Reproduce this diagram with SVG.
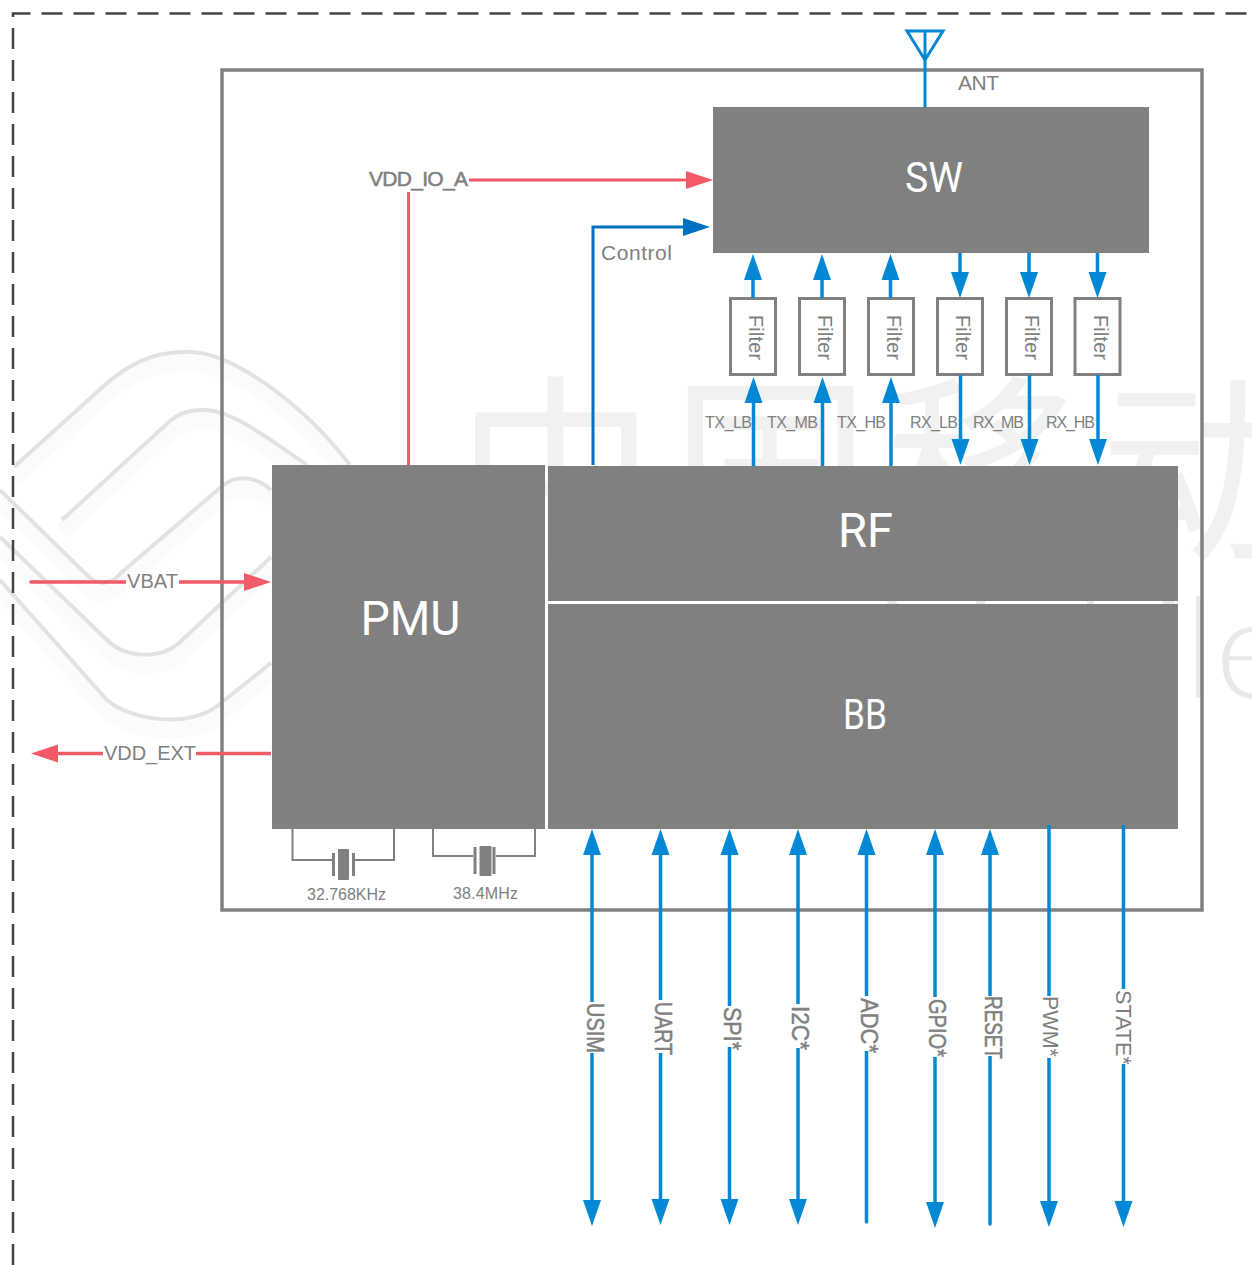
<svg xmlns="http://www.w3.org/2000/svg" width="1252" height="1265" viewBox="0 0 1252 1265">
<style>
.wave{fill:none;stroke:#e2e2e2;stroke-width:4;stroke-linecap:butt}
.band{fill:none;stroke:#fbfbfb;stroke-width:16;stroke-linecap:butt}
.wm{font-family:"Noto Sans CJK SC","Noto Sans",sans-serif;fill:#f1f1f1}
.wl{font-family:Lato,Roboto,sans-serif;font-weight:300;fill:#e9e9e9}
.block{fill:#808080}
.big{font-family:Roboto,"Liberation Sans",sans-serif;fill:#fff;text-anchor:middle}
.lb{font-family:"Liberation Sans",Arial,sans-serif;fill:#808080}
.fb{stroke:#808080;stroke-width:.5}
.blue{fill:none;stroke:#0288d4;stroke-width:3.5}
.dk{fill:none;stroke:#0070c0;stroke-width:3}
.red{fill:none;stroke:#f35a68;stroke-width:3.5}
.thin{fill:none;stroke:#808080;stroke-width:2}
.filter{fill:#fff;stroke:#808080;stroke-width:3}
</style>
<defs>
<marker id="ab" markerUnits="userSpaceOnUse" markerWidth="26" markerHeight="20" refX="0" refY="10" orient="auto-start-reverse"><path d="M0,1 L26,10 L0,19 Z" fill="#0288d4"/></marker>
<marker id="ad" markerUnits="userSpaceOnUse" markerWidth="27" markerHeight="20" refX="0" refY="10" orient="auto-start-reverse"><path d="M0,1 L27,10 L0,19 Z" fill="#0070c0"/></marker>
<marker id="ar" markerUnits="userSpaceOnUse" markerWidth="27" markerHeight="20" refX="0" refY="10" orient="auto-start-reverse"><path d="M0,1 L27,10 L0,19 Z" fill="#f35a68"/></marker>
<path id="w1" d="M14,467 L107,383 C140,355 165,352 189,352 C230,352 300,400 350,465"/>
<path id="w2" d="M62,520 L171,420 C185,410 195,410 207,410 C235,412 270,440 307,465"/>
<path id="w3" d="M0,490 L89,577 C100,586 112,584 121,573 L221,487 C235,475 255,475 271,490"/>
<path id="w4" d="M0,537 L107,640 C125,658 160,660 179,643 L271,557"/>
<path id="w5" d="M0,580 L107,700 C130,720 190,730 221,703 L271,663"/>
</defs>
<rect width="1252" height="1265" fill="#fff"/>
<g id="watermark">
<use href="#w1" class="band" y="11"/><use href="#w2" class="band" y="11"/><use href="#w3" class="band" y="11"/><use href="#w4" class="band" y="11"/><use href="#w5" class="band" y="11"/>
<use href="#w1" class="wave"/><use href="#w2" class="wave"/><use href="#w3" class="wave"/><use href="#w4" class="wave"/><use href="#w5" class="wave"/>
<text class="wm" x="456" y="545" font-size="200" textLength="844">中国移动</text>
<text class="wl" x="1288" y="698" font-size="140" text-anchor="end">Mobile</text>
</g>
<path id="outer-frame" d="M13,1265 V13.500 H1252" fill="none" stroke="#444" stroke-width="2.500" stroke-dasharray="21 11"/>
<rect id="inner-frame" x="222" y="70" width="980" height="840" fill="none" stroke="#808080" stroke-width="3.500"/>
<g id="pmu"><rect class="block" x="272" y="465" width="273" height="364"/><text class="big" x="410.500" y="635" font-size="49" textLength="100" lengthAdjust="spacingAndGlyphs">PMU</text></g>
<g id="rf"><rect class="block" x="548" y="466" width="630" height="135"/><text class="big" x="865.500" y="547" font-size="48" textLength="55" lengthAdjust="spacingAndGlyphs">RF</text></g>
<g id="bb"><rect class="block" x="548" y="604" width="630" height="225"/><text class="big" x="865" y="729" font-size="42" textLength="44" lengthAdjust="spacingAndGlyphs">BB</text></g>
<g id="sw"><rect class="block" x="713" y="107" width="436" height="146"/><text class="big" x="934" y="192" font-size="42" textLength="58" lengthAdjust="spacingAndGlyphs">SW</text></g>
<g id="filter-1"><rect class="filter" x="730.500" y="298.500" width="45" height="76"/><text class="lb" font-size="19.500" transform="translate(749,315) rotate(90)" textLength="45">Filter</text></g>
<g id="filter-2"><rect class="filter" x="799.500" y="298.500" width="45" height="76"/><text class="lb" font-size="19.500" transform="translate(818,315) rotate(90)" textLength="45">Filter</text></g>
<g id="filter-3"><rect class="filter" x="868.500" y="298.500" width="45" height="76"/><text class="lb" font-size="19.500" transform="translate(887,315) rotate(90)" textLength="45">Filter</text></g>
<g id="filter-4"><rect class="filter" x="937.500" y="298.500" width="45" height="76"/><text class="lb" font-size="19.500" transform="translate(956,315) rotate(90)" textLength="45">Filter</text></g>
<g id="filter-5"><rect class="filter" x="1006.500" y="298.500" width="45" height="76"/><text class="lb" font-size="19.500" transform="translate(1025,315) rotate(90)" textLength="45">Filter</text></g>
<g id="filter-6"><rect class="filter" x="1075" y="298.500" width="45" height="76"/><text class="lb" font-size="19.500" transform="translate(1094,315) rotate(90)" textLength="45">Filter</text></g>
<g id="connectors">
<path class="red" style="stroke-width:3" d="M408.500,465 V192"/>
<path class="red" style="stroke-width:3" d="M468,180 H686" marker-end="url(#ar)"/>
<path class="dk" d="M593,465 V227 H683" marker-end="url(#ad)"/>
<path class="red" d="M31,582 H244" marker-end="url(#ar)" stroke-linecap="round"/>
<path class="red" d="M271,753.500 H58" marker-end="url(#ar)"/>
<path d="M925,107 V31" class="blue" style="stroke-width:3"/>
<path d="M907,31 H943 L925,60 Z" class="blue" style="stroke-width:3"/>
<path class="blue" d="M753.500,466 V403" marker-end="url(#ab)"/>
<path class="blue" d="M822.500,466 V403" marker-end="url(#ab)"/>
<path class="blue" d="M891,466 V403" marker-end="url(#ab)"/>
<path class="blue" d="M753,298 V280" marker-end="url(#ab)"/>
<path class="blue" d="M822,298 V280" marker-end="url(#ab)"/>
<path class="blue" d="M890.500,298 V280" marker-end="url(#ab)"/>
<path class="blue" d="M960,253 V272" marker-end="url(#ab)"/>
<path class="blue" d="M1029,253 V272" marker-end="url(#ab)"/>
<path class="blue" d="M1097.500,253 V272" marker-end="url(#ab)"/>
<path class="blue" d="M960.500,375 V439" marker-end="url(#ab)"/>
<path class="blue" d="M1029.500,375 V439" marker-end="url(#ab)"/>
<path class="blue" d="M1098,375 V439" marker-end="url(#ab)"/>
<path class="blue" d="M592,855 V1200" marker-start="url(#ab)" marker-end="url(#ab)"/>
<path class="blue" d="M660.500,855 V1199" marker-start="url(#ab)" marker-end="url(#ab)"/>
<path class="blue" d="M729.500,855 V1199" marker-start="url(#ab)" marker-end="url(#ab)"/>
<path class="blue" d="M798,855 V1199" marker-start="url(#ab)" marker-end="url(#ab)"/>
<path class="blue" d="M866.500,855 V1222" marker-start="url(#ab)" stroke-linecap="round"/>
<path class="blue" d="M935,855 V1202" marker-start="url(#ab)" marker-end="url(#ab)"/>
<path class="blue" d="M990,855 V1224" marker-start="url(#ab)" stroke-linecap="round"/>
<path class="blue" d="M1049,825 V1201" marker-end="url(#ab)"/>
<path class="blue" d="M1123.500,825 V1201" marker-end="url(#ab)"/>
<path class="thin" d="M292.500,829 V860 H332"/><path class="thin" d="M355,860 H394 V829"/>
<path class="thin" d="M433,829 V856 H473"/><path class="thin" d="M496,856 H535 V829"/>
</g>
<g id="xtal-1"><path class="thin" style="stroke-width:3" d="M333.500,853 V876 M353.500,853 V876"/><rect class="block" x="338" y="849" width="11" height="31" rx="1"/></g>
<g id="xtal-2"><path class="thin" style="stroke-width:3" d="M475,847 V874 M494,847 V874"/><rect class="block" x="479.500" y="846" width="12" height="30" rx="1"/></g>
<g id="labels">
<text class="lb" x="958" y="90" font-size="21" textLength="41">ANT</text>
<rect x="368" y="168" width="101" height="22" fill="#fff"/>
<text class="lb fb" x="369" y="186" font-size="21" textLength="99">VDD_IO_A</text>
<text class="lb" x="601" y="260" font-size="21" textLength="71">Control</text>
<rect x="126" y="572" width="53" height="20" fill="#fff"/>
<text class="lb" x="127" y="588" font-size="20" textLength="51">VBAT</text>
<rect x="103" y="743" width="93" height="20" fill="#fff"/>
<text class="lb" x="104" y="760" font-size="20" textLength="92">VDD_EXT</text>
<text class="lb" x="705" y="428" font-size="16" textLength="47">TX_LB</text>
<text class="lb" x="767" y="428" font-size="16" textLength="51">TX_MB</text>
<text class="lb" x="837" y="428" font-size="16" textLength="49">TX_HB</text>
<text class="lb" x="910" y="428" font-size="16" textLength="48">RX_LB</text>
<text class="lb" x="973" y="428" font-size="16" textLength="51">RX_MB</text>
<text class="lb" x="1046" y="428" font-size="16" textLength="49">RX_HB</text>
<text class="lb" x="307" y="900" font-size="16" textLength="79">32.768KHz</text>
<text class="lb" x="453" y="899" font-size="16" textLength="65">38.4MHz</text>
<rect x="583" y="1002" width="22" height="51" fill="#fff"/>
<text class="lb fb" font-size="23" transform="translate(587,1003) rotate(90)" textLength="50" lengthAdjust="spacingAndGlyphs">USIM</text>
<rect x="651" y="1000" width="22" height="53" fill="#fff"/>
<text class="lb fb" font-size="23" transform="translate(655,1002) rotate(90)" textLength="53" lengthAdjust="spacingAndGlyphs">UART</text>
<rect x="720" y="1006" width="22" height="41" fill="#fff"/>
<text class="lb fb" font-size="23" transform="translate(723.500,1007) rotate(90)" textLength="43" lengthAdjust="spacingAndGlyphs">SPI*</text>
<rect x="788" y="1004" width="22" height="44" fill="#fff"/>
<text class="lb fb" font-size="23" transform="translate(792,1006) rotate(90)" textLength="44" lengthAdjust="spacingAndGlyphs">I2C*</text>
<rect x="857" y="996" width="22" height="55" fill="#fff"/>
<text class="lb fb" font-size="23" transform="translate(861,998) rotate(90)" textLength="55" lengthAdjust="spacingAndGlyphs">ADC*</text>
<rect x="925" y="997" width="22" height="60" fill="#fff"/>
<text class="lb fb" font-size="23" transform="translate(929,999) rotate(90)" textLength="58" lengthAdjust="spacingAndGlyphs">GPIO*</text>
<rect x="981" y="996" width="22" height="60" fill="#fff"/>
<text class="lb fb" font-size="23" transform="translate(985,996) rotate(90)" textLength="63" lengthAdjust="spacingAndGlyphs">RESET</text>
<rect x="1039" y="996" width="21" height="62" fill="#fff"/>
<text class="lb" font-size="22" transform="translate(1043,996) rotate(90)" textLength="61" lengthAdjust="spacingAndGlyphs">PWM*</text>
<rect x="1114" y="989" width="21" height="75" fill="#fff"/>
<text class="lb" font-size="22" transform="translate(1116,990) rotate(90)" textLength="75" lengthAdjust="spacingAndGlyphs">STATE*</text>
</g>
</svg>
